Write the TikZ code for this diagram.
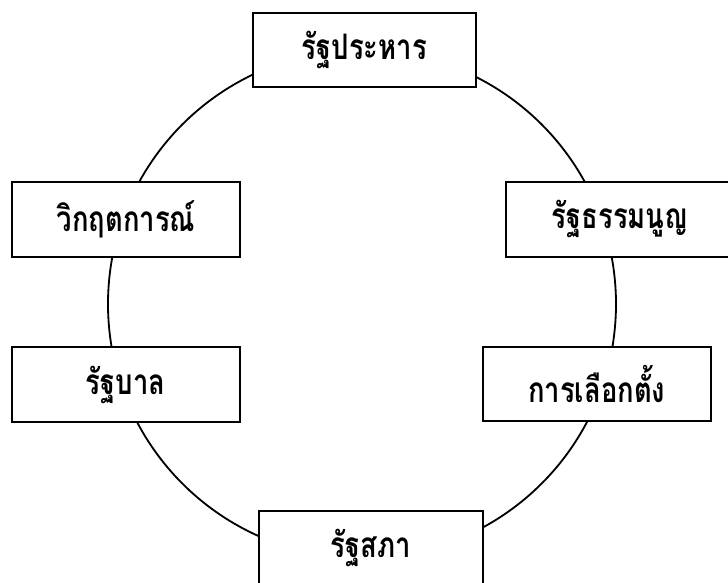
\documentclass[tikz,border=0pt]{standalone}
\usepackage{fontspec}
\newfontfamily\thaifont[Script=Thai,FakeStretch=0.78]{Loma}
\usepackage{tikz}

\tikzset{
  cyclebox/.style={draw=black,fill=white,line width=1.5pt,minimum width=5.7cm,
    minimum height=1.87cm,inner sep=0pt,font=\thaifont\bfseries\fontsize{25pt}{28pt}\selectfont},
  ringline/.style={draw=black,line width=1.3pt}
}

\begin{document}
\begin{tikzpicture}[x=1cm,y=1cm]
\path[use as bounding box] (0,0) rectangle (18.20,14.575);
\fill[white] (0,0) rectangle (18.20,14.575);
% the ring behind the boxes
\coordinate (hub) at (9.05,6.975);
\draw[ringline] (hub) circle[radius=6.35];
% stages of the cycle
\node[cyclebox,minimum width=5.58cm] (coup) at (9.11,13.325) {รัฐประหาร};
\node[cyclebox] (charter) at (15.50,9.09) {รัฐธรรมนูญ};
\node[cyclebox] (vote) at (14.92,4.975) {การเลือกตั้ง};
\node[cyclebox,minimum width=5.6cm] (house) at (9.27,0.875) {รัฐสภา};
\node[cyclebox] (cabinet) at (3.14,4.96) {รัฐบาล};
\node[cyclebox] (crisis) at (3.15,9.09) {วิกฤตการณ์};
\end{tikzpicture}
\end{document}
